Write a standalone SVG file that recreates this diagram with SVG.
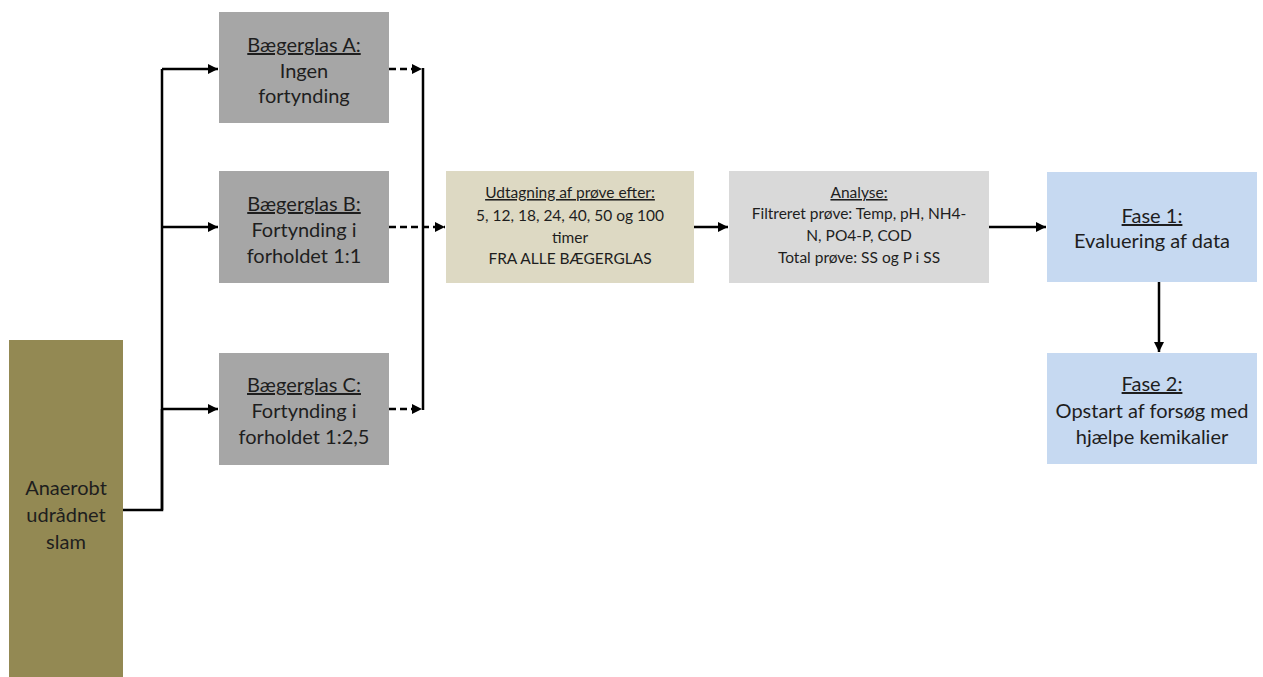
<svg xmlns="http://www.w3.org/2000/svg" width="1263" height="677" viewBox="0 0 1263 677">
  <style>
    .t { font-family: Lato, "Open Sans", "Liberation Sans", sans-serif; fill: #1e1e1e; text-anchor: middle; }
    .big { font-size: 20px; }
    .small { font-size: 15.5px; }
    .u { text-decoration: underline; }
    .line { fill: none; stroke: #000; stroke-width: 2.5; }
    .dash { fill: none; stroke: #000; stroke-width: 2.5; stroke-dasharray: 7 4; }
  </style>
  <defs>
    <marker id="arrow" viewBox="0 0 10 10" refX="10" refY="5" markerWidth="4.4" markerHeight="4" orient="auto" markerUnits="strokeWidth">
      <path d="M0,0 L10,5 L0,10 Z" fill="#000"/>
    </marker>
  </defs>
  <rect width="1263" height="677" fill="#fff"/>

  <!-- source -->
  <g id="slam">
    <rect x="9" y="340" width="114" height="337" fill="#938953"/>
    <text class="t big" x="66" y="495">Anaerobt</text>
    <text class="t big" x="66" y="522">udrådnet</text>
    <text class="t big" x="66" y="549">slam</text>
  </g>

  <!-- beakers -->
  <g id="baegerglas-a">
    <rect x="219" y="12" width="170" height="111" fill="#a6a6a6"/>
    <text class="t big u" x="304" y="52">Bægerglas A:</text>
    <text class="t big" x="304" y="78">Ingen</text>
    <text class="t big" x="304" y="103">fortynding</text>
  </g>
  <g id="baegerglas-b">
    <rect x="219" y="171" width="170" height="112" fill="#a6a6a6"/>
    <text class="t big u" x="304" y="211">Bægerglas B:</text>
    <text class="t big" x="304" y="237">Fortynding i</text>
    <text class="t big" x="304" y="263">forholdet 1:1</text>
  </g>
  <g id="baegerglas-c">
    <rect x="219" y="353" width="170" height="112" fill="#a6a6a6"/>
    <text class="t big u" x="304" y="392">Bægerglas C:</text>
    <text class="t big" x="304" y="418">Fortynding i</text>
    <text class="t big" x="304" y="444">forholdet 1:2,5</text>
  </g>

  <!-- sampling -->
  <g id="udtagning">
    <rect x="446" y="171" width="248" height="112" fill="#ddd9c3"/>
    <text class="t small u" x="570" y="198">Udtagning af prøve efter:</text>
    <text class="t small" x="570" y="221">5, 12, 18, 24, 40, 50  og 100</text>
    <text class="t small" x="570" y="243">timer</text>
    <text class="t small" x="570" y="264">FRA ALLE BÆGERGLAS</text>
  </g>

  <!-- analysis -->
  <g id="analyse">
    <rect x="729" y="171" width="260" height="112" fill="#d9d9d9"/>
    <text class="t small u" x="859" y="198">Analyse:</text>
    <text class="t small" x="859" y="219">Filtreret prøve: Temp, pH, NH4-</text>
    <text class="t small" x="859" y="241">N, PO4-P, COD</text>
    <text class="t small" x="859" y="263">Total prøve: SS og P i SS</text>
  </g>

  <!-- phases -->
  <g id="fase-1">
    <rect x="1047" y="172" width="210" height="110" fill="#c6d9f1"/>
    <text class="t big u" x="1152" y="223">Fase 1:</text>
    <text class="t big" x="1152" y="248">Evaluering af data</text>
  </g>
  <g id="fase-2">
    <rect x="1047" y="353" width="210" height="111" fill="#c6d9f1"/>
    <text class="t big u" x="1152" y="391">Fase 2:</text>
    <text class="t big" x="1152" y="418">Opstart af forsøg med</text>
    <text class="t big" x="1152" y="444">hjælpe kemikalier</text>
  </g>

  <!-- connectors -->
  <g id="connectors">
    <path class="line" d="M123,510 H162 V69"/>
    <path class="line" d="M162,510 V409"/>
    <path class="line" d="M162,69 H218" marker-end="url(#arrow)"/>
    <path class="line" d="M162,227 H218" marker-end="url(#arrow)"/>
    <path class="line" d="M162,409 H218" marker-end="url(#arrow)"/>

    <path class="dash" d="M389,69 H422" marker-end="url(#arrow)"/>
    <path class="dash" d="M389,409 H422" marker-end="url(#arrow)"/>
    <path class="line" d="M423,68 V410"/>
    <path class="dash" d="M389,227 H445" marker-end="url(#arrow)"/>

    <path class="line" d="M694,227 H728" marker-end="url(#arrow)"/>
    <path class="line" d="M989,227 H1046" marker-end="url(#arrow)"/>
    <path class="line" d="M1159,282 V352" marker-end="url(#arrow)"/>
  </g>
</svg>
